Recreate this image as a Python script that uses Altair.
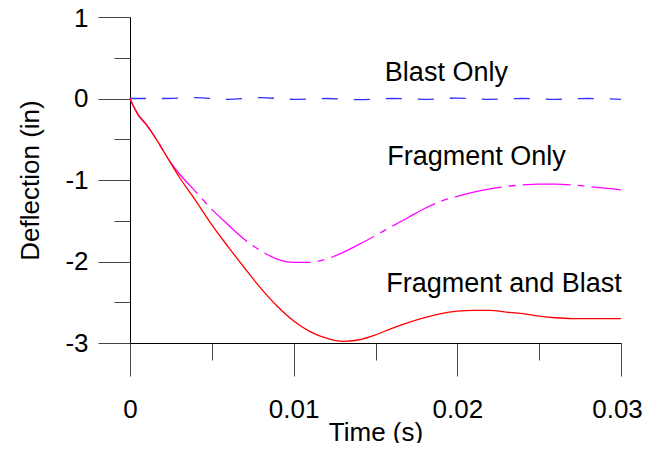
import altair as alt
import pandas as pd

# Time (s) and deflection (in)
t_fb = [0, 0.0002, 0.0005, 0.001, 0.0017, 0.0023, 0.003, 0.004, 0.005, 0.006, 0.007,
        0.008, 0.009, 0.010, 0.011, 0.012, 0.013, 0.014, 0.015, 0.016, 0.017, 0.018,
        0.019, 0.020, 0.021, 0.022, 0.023, 0.024, 0.025, 0.026, 0.027, 0.028, 0.029, 0.030]
y_fb = [0, -0.09, -0.20, -0.32, -0.53, -0.73, -0.96, -1.25, -1.55, -1.82, -2.08,
        -2.33, -2.55, -2.73, -2.86, -2.94, -2.98, -2.96, -2.90, -2.82, -2.75, -2.69,
        -2.64, -2.61, -2.60, -2.60, -2.62, -2.64, -2.67, -2.69, -2.70, -2.70, -2.70, -2.70]

t_fo = [0, 0.0002, 0.0005, 0.001, 0.0017, 0.0023, 0.003, 0.004, 0.005, 0.006, 0.007,
        0.008, 0.009, 0.010, 0.011, 0.012, 0.013, 0.014, 0.015, 0.016, 0.017, 0.018,
        0.019, 0.020, 0.021, 0.022, 0.023, 0.024, 0.025, 0.026, 0.027, 0.028, 0.029, 0.030]
y_fo = [0, -0.09, -0.20, -0.32, -0.53, -0.73, -0.92, -1.14, -1.36, -1.55, -1.73,
        -1.87, -1.97, -2.01, -2.01, -1.97, -1.89, -1.79, -1.68, -1.57, -1.46, -1.35,
        -1.26, -1.20, -1.15, -1.11, -1.08, -1.06, -1.05, -1.05, -1.06, -1.08, -1.10, -1.12]

t_bo = [0, 0.002, 0.004, 0.006, 0.008, 0.010, 0.012, 0.014, 0.016, 0.018, 0.020,
        0.022, 0.024, 0.026, 0.028, 0.030]
y_bo = [0, 0.0, 0.01, -0.01, 0.01, -0.01, 0.0, -0.015, 0.0, -0.01, 0.005,
        -0.01, 0.0, -0.01, 0.0, -0.01]

labels = ["Blast Only", "Fragment Only", "Fragment and Blast"]
label_t = [0.01933, 0.02117, 0.02285]
label_y = [0.212, -0.81, -2.377]

x_ticks = [0, 0.005, 0.01, 0.015, 0.02, 0.025, 0.03]
y_ticks = [-3, -2.5, -2, -1.5, -1, -0.5, 0, 0.5, 1]

FONT = "Liberation Sans"

fb = pd.DataFrame({"t": t_fb, "y": y_fb})
fo = pd.DataFrame({"t": t_fo, "y": y_fo})
bo = pd.DataFrame({"t": t_bo, "y": y_bo})
lab = pd.DataFrame({"t": label_t, "y": label_y, "text": labels})

x_scale = alt.Scale(domain=[0, 0.03], nice=False, zero=False)
y_scale = alt.Scale(domain=[-3, 1], nice=False, zero=False)

x_axis = alt.Axis(
    title="Time (s)", values=x_ticks, grid=False,
    labelExpr="round(datum.value*200) % 2 === 0 ? format(datum.value, '~g') : ''",
    tickSize={"condition": {"test": "round(datum.value*200) % 2 === 0", "value": 33}, "value": 17},
    labelOffset={"condition": {"test": "datum.value > 0.029", "value": -4}, "value": 0},
    labelFlush=False, labelOverlap=False, labelPadding=20,
    titleBaseline="alphabetic", titleY=97,
)
y_axis = alt.Axis(
    title="Deflection (in)", values=y_ticks, grid=False,
    labelExpr="datum.value % 1 === 0 ? '' + datum.value : ''",
    tickSize={"condition": {"test": "datum.value % 1 === 0", "value": 32}, "value": 16},
    labelOffset={"condition": {"test": "datum.value > 0.9", "value": 1}, "value": 0},
    labelOverlap=False, labelPadding=10, titlePadding=21,
)

base_x = alt.X("t:Q", scale=x_scale, axis=x_axis)
base_y = alt.Y("y:Q", scale=y_scale, axis=y_axis)

line_fo = alt.Chart(fo).mark_line(color="#ff00ff", strokeWidth=1.3, strokeDash=[48, 7, 7, 7],
                                  interpolate="monotone").encode(x=base_x, y=base_y)
line_bo = alt.Chart(bo).mark_line(color="#3030ff", strokeWidth=1.3, strokeDash=[16, 16],
                                  interpolate="monotone").encode(x="t:Q", y="y:Q")
line_fb = alt.Chart(fb).mark_line(color="#ff0000", strokeWidth=1.3,
                                  interpolate="monotone").encode(x="t:Q", y="y:Q")
texts = alt.Chart(lab).mark_text(font=FONT, fontSize=27, color="black", align="center",
                                 baseline="alphabetic").encode(x="t:Q", y="y:Q", text="text:N")

chart = alt.layer(line_fo, line_bo, line_fb, texts).properties(
    width=491, height=326,
    autosize=alt.AutoSizeParams(type="none"),
    padding={"left": 122, "top": 9, "right": 22, "bottom": 100},
).configure_view(stroke=None).configure_axis(
    labelFont=FONT, titleFont=FONT, labelFontSize=26, titleFontSize=26,
    titleFontWeight="normal", labelColor="black", titleColor="black",
    domainColor="black", domainWidth=1, tickColor="#444", tickWidth=1,
)

chart.save("out.html", embed_options={"renderer": "svg", "actions": False})
